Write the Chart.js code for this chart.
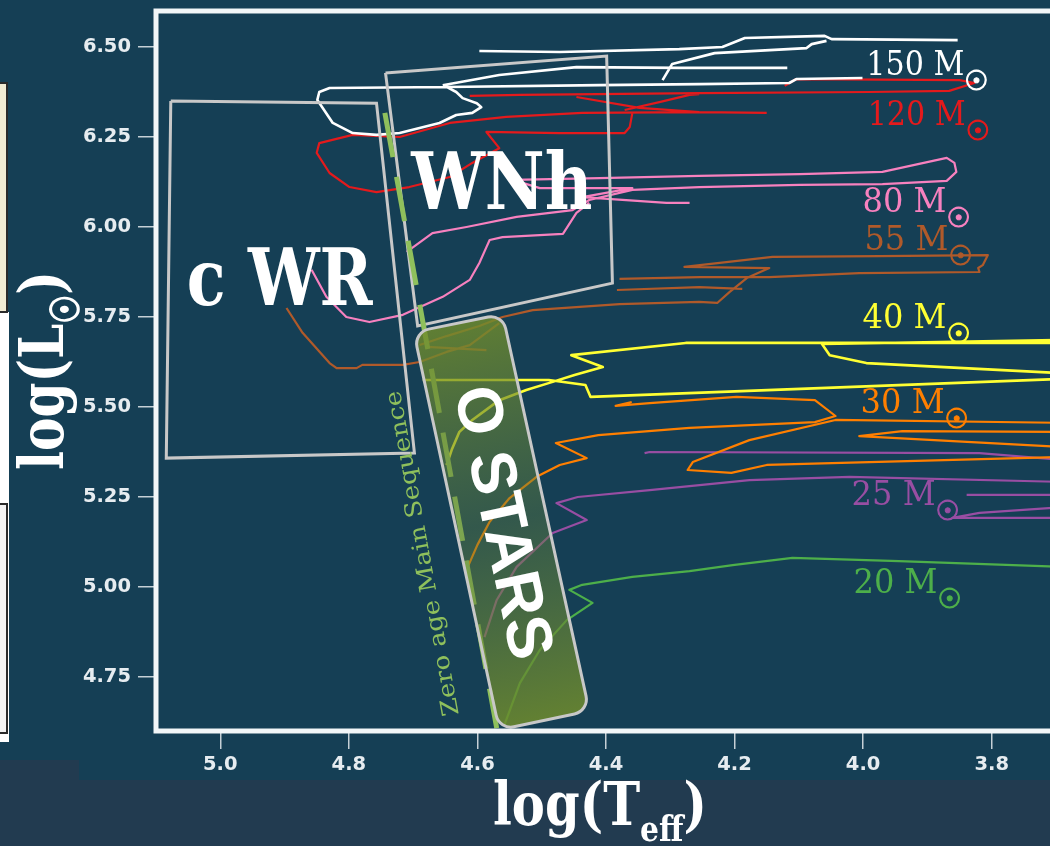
<!DOCTYPE html>
<html>
<head>
<meta charset="utf-8">
<title>HR diagram - massive star tracks</title>
<script src="https://cdn.jsdelivr.net/npm/chart.js@4.4.1/dist/chart.umd.min.js"></script>
<style>
  html, body { margin: 0; padding: 0; width: 1050px; height: 846px; overflow: hidden; background: #153f55; }
  #hrd { position: absolute; left: 0; top: 0; width: 1060px; height: 846px; }
</style>
</head>
<body>
<canvas id="hrd" width="1060" height="846"></canvas>
<script>
// Axis ticks
const xTicks = [5.0, 4.8, 4.6, 4.4, 4.2, 4.0, 3.8];
const yTicks = [4.75, 5.00, 5.25, 5.50, 5.75, 6.00, 6.25, 6.50];

// Evolutionary tracks: log(Teff), log(L/Lsun). null = pen up
const t150 = [4.648, 4.633, 4.623, 4.601, 4.594, 4.608, 4.633, 4.659, 4.721, 4.757, 4.794, 4.825, 4.849, 4.846, 4.830, 4.648, 4.410, 4.255, 4.115, 4.104, 4.001, null,
              4.654, 4.566, 4.446, 4.286, 4.118, null,
              4.597, 4.472, 4.286, 4.219, 4.184, 4.060, 4.049, 3.853, null,
              4.312, 4.297, 4.231, 4.088, 4.080, 4.057];
const l150 = [6.389, 6.375, 6.358, 6.344, 6.333, 6.317, 6.311, 6.289, 6.261, 6.256, 6.261, 6.289, 6.353, 6.375, 6.386, 6.389, 6.394, 6.397, 6.400, 6.411, 6.414, null,
              6.394, 6.422, 6.444, 6.442, 6.442, null,
              6.489, 6.486, 6.494, 6.500, 6.525, 6.531, 6.522, 6.519, null,
              6.408, 6.453, 6.483, 6.497, 6.508, 6.517];

const t120 = [4.122, 4.104, 3.850, 3.827, 3.866, 3.990, 4.255, 4.534, 4.612, null,
              4.446, 4.348, 4.255, 4.150, null,
              4.371, 4.317, 4.270, 4.255, null,
              4.255, 4.437, 4.555, 4.643, 4.721, 4.794, 4.846, 4.850, 4.830, 4.799, 4.757, 4.706, 4.643, 4.608, 4.566, 4.586, 4.472, 4.371, 4.363, 4.359];
const l120 = [6.392, 6.411, 6.408, 6.400, 6.378, 6.375, 6.372, 6.367, 6.364, null,
              6.361, 6.331, 6.319, 6.317, null,
              6.325, 6.347, 6.367, 6.369, null,
              6.319, 6.317, 6.306, 6.289, 6.250, 6.256, 6.233, 6.206, 6.150, 6.111, 6.097, 6.111, 6.139, 6.178, 6.219, 6.264, 6.261, 6.261, 6.278, 6.317];

const t80 = [4.710, 4.670, 4.617, 4.539, 4.452, 4.426, 4.359, 4.255, 4.099, 3.970, 3.870, 3.855, 3.858, 3.870, 3.970, 4.099, 4.255, 4.410, 4.545, 4.503, 4.359, 4.437, 4.306, 4.270, null,
             4.426, 4.446, 4.467, 4.561, 4.581, 4.586, 4.597, 4.612, 4.654, 4.716, 4.768, 4.804, 4.835, 4.858];
const l80 = [5.931, 5.983, 6.000, 6.028, 6.047, 6.075, 6.103, 6.111, 6.117, 6.119, 6.128, 6.153, 6.178, 6.192, 6.153, 6.147, 6.142, 6.136, 6.131, 6.108, 6.108, 6.083, 6.067, 6.067, null,
             6.067, 6.039, 5.981, 5.972, 5.964, 5.944, 5.900, 5.853, 5.806, 5.756, 5.736, 5.750, 5.806, 5.881];

const t55 = [4.690, 4.648, 4.597, 4.561, 4.514, 4.379, 4.255, 4.227, 4.208, 4.181, 4.146, 4.278, 4.141, 3.974, 3.806, 3.814, 3.821, 3.819, 4.006, 4.146, 4.255, 4.379, null,
             4.383, 4.255, 4.188, null,
             4.566, 4.612, 4.648, 4.690, 4.716, 4.779, 4.788, 4.819, 4.830, 4.872, 4.897, null,
             4.679, 4.586];
const l55 = [5.672, 5.697, 5.725, 5.750, 5.769, 5.786, 5.792, 5.789, 5.819, 5.858, 5.886, 5.889, 5.917, 5.919, 5.922, 5.894, 5.886, 5.875, 5.872, 5.861, 5.861, 5.856, null,
             5.825, 5.833, 5.828, null,
             5.733, 5.672, 5.653, 5.625, 5.617, 5.617, 5.608, 5.608, 5.622, 5.706, 5.775, null,
             5.667, 5.658];

const t40 = [4.648, 4.640, 4.628, 4.608, 4.566, 4.524, 4.488, 4.449, 4.405, 4.454, 4.276, 3.690, null,
             3.690, 4.064, 4.052, 3.995, 3.690, null,
             3.690, 4.424, 4.432, 4.489, 4.685];
const l40 = [5.339, 5.381, 5.431, 5.464, 5.519, 5.547, 5.567, 5.589, 5.611, 5.644, 5.678, 5.678, null,
             5.686, 5.675, 5.644, 5.622, 5.594, null,
             5.578, 5.528, 5.561, 5.575, 5.575];

const t30 = [4.615, 4.600, 4.581, 4.550, 4.508, 4.472, 4.430, 4.478, 4.412, 4.270, 4.075, 4.043, 4.075, 4.197, 4.332, 4.385, 4.360, null,
             3.690, 4.043, 4.177, 4.265, 4.273, 4.205, 4.150, 3.690, null,
             3.690, 3.939, 4.006, 3.690];
const l30 = [5.056, 5.117, 5.181, 5.247, 5.306, 5.339, 5.358, 5.400, 5.422, 5.442, 5.458, 5.475, 5.519, 5.528, 5.511, 5.503, 5.514, null,
             5.456, 5.464, 5.408, 5.347, 5.325, 5.317, 5.339, 5.361, null,
             5.431, 5.433, 5.419, 5.389];

const t25 = [4.589, 4.570, 4.539, 4.483, 4.430, 4.477, 4.444, 4.332, 4.177, 4.021, 3.690, null,
             4.340, 4.332, 3.819, 3.690, null,
             3.690, 3.839, null,
             3.690, 3.819, 3.861, 3.690];
const l25 = [4.861, 4.964, 5.056, 5.150, 5.186, 5.233, 5.250, 5.269, 5.297, 5.306, 5.292, null,
             5.372, 5.375, 5.372, 5.353, null,
             5.256, 5.256, null,
             5.222, 5.206, 5.192, 5.192];

const t20 = [4.558, 4.534, 4.503, 4.461, 4.421, 4.457, 4.437, 4.359, 4.270, 4.203, 4.110, 3.944, 3.690];
const l20 = [4.617, 4.733, 4.825, 4.908, 4.956, 4.992, 5.006, 5.028, 5.044, 5.061, 5.081, 5.072, 5.056];

const massNames = ['150', '120', '80', '55', '40', '30', '25', '20'];
const trackColors = ['#ffffff', '#e41a1c', '#f781bf', '#b05a2a', '#ffff33', '#ff7f00', '#984ea3', '#4daf4a'];

// Regions (corners in log Teff, log L)
const cwrT = [5.077, 4.757, 4.698, 5.084, 5.077];
const cwrL = [6.350, 6.344, 5.372, 5.358, 6.350];
const wnhT = [4.743, 4.399, 4.390, 4.693, 4.743];
const wnhL = [6.428, 6.475, 5.844, 5.725, 6.428];
const ostarsT = [4.699, 4.561, 4.426, 4.566];
const ostarsL = [5.708, 5.758, 4.656, 4.603];
const zamsT = [4.744, 4.570];
const zamsL = [6.317, 4.608];

// Mass label anchors (left end of text, baseline)
const labelT = [3.995, 3.993, 4.001, 3.998, 4.001, 4.004, 4.018, 4.015];
const labelL = [6.422, 6.283, 6.042, 5.936, 5.719, 5.483, 5.228, 4.983];

function points(ts, ls) {
    return ts.map((t, i) => (t === null ? { x: null, y: null } : { x: t, y: ls[i] }));
}

const trackT = [t150, t120, t80, t55, t40, t30, t25, t20];
const trackL = [l150, l120, l80, l55, l40, l30, l25, l20];

const datasets = trackT.map((ts, i) => ({
    label: massNames[i] + ' Msun',
    data: points(ts, trackL[i]),
    showLine: true,
    borderColor: trackColors[i],
    borderWidth: i === 0 ? 2.6 : (i === 4 ? 2.6 : 2.2),
    borderJoinStyle: 'round',
    pointRadius: 0,
    spanGaps: false,
    order: 2
}));

datasets.push({
    label: 'cWR', data: points(cwrT, cwrL), showLine: true,
    borderColor: '#c8c8c8', borderWidth: 3, pointRadius: 0, order: 1
});
datasets.push({
    label: 'WNh', data: points(wnhT, wnhL), showLine: true,
    borderColor: '#c8c8c8', borderWidth: 3, pointRadius: 0, order: 1
});
datasets.push({
    label: 'ZAMS', data: points(zamsT, zamsL), showLine: true,
    borderColor: '#8fc05c', borderWidth: 5, borderDash: [45, 20], pointRadius: 0, order: 0
});

function mid(a, b) { return { x: (a.x + b.x) / 2, y: (a.y + b.y) / 2 }; }

function roundedPoly(c, pts, r) {
    const n = pts.length;
    const m0 = mid(pts[n - 1], pts[0]);
    c.beginPath();
    c.moveTo(m0.x, m0.y);
    for (let i = 0; i < n; i++) {
        const p = pts[i], q = pts[(i + 1) % n];
        c.arcTo(p.x, p.y, q.x, q.y, r);
    }
    c.closePath();
}

// text squeezed horizontally to a given width
function fitText(c, text, font, x, y, width, angle, color, centered) {
    c.save();
    c.font = font;
    const m = c.measureText(text).width;
    c.translate(x, y);
    c.rotate(angle || 0);
    c.scale(width / m, 1);
    c.fillStyle = color;
    c.textAlign = centered ? 'center' : 'left';
    c.textBaseline = centered ? 'middle' : 'alphabetic';
    c.fillText(text, 0, 0);
    c.restore();
}

// several pieces (with subscripts) on one baseline
function richText(c, parts, x, y, width, angle, color) {
    let total = 0;
    parts.forEach(p => { c.font = p.font; p.w = c.measureText(p.text).width; total += p.w; });
    c.save();
    c.translate(x, y);
    c.rotate(angle || 0);
    c.scale(width / total, 1);
    c.fillStyle = color;
    c.strokeStyle = color;
    c.textAlign = 'left';
    c.textBaseline = 'alphabetic';
    let cx = 0;
    parts.forEach(p => {
        c.font = p.font;
        c.fillText(p.text, cx, p.dy || 0);
        if (p.bold) { c.lineWidth = p.bold; c.strokeText(p.text, cx, p.dy || 0); }
        cx += p.w;
    });
    c.restore();
}

function sun(c, cx, cy, font, color) {
    c.save();
    c.font = font;
    c.textAlign = 'left';
    c.textBaseline = 'alphabetic';
    const m = c.measureText('\u2609');
    const x = cx - (m.actualBoundingBoxRight - m.actualBoundingBoxLeft) / 2;
    const y = cy - (m.actualBoundingBoxDescent - m.actualBoundingBoxAscent) / 2;
    c.fillStyle = color;
    c.strokeStyle = color;
    c.lineWidth = 1.1;
    c.fillText('\u2609', x, y);
    c.strokeText('\u2609', x, y);
    c.restore();
}

const hrDecor = {
    id: 'hrDecor',
    beforeDraw(chart) {
        const c = chart.ctx;
        c.save();
        c.fillStyle = '#153f55';
        c.fillRect(0, 0, chart.width, chart.height);
        // slide strip under the picture
        c.fillStyle = '#223b50';
        c.fillRect(0, 760, 79, 86);
        c.fillRect(79, 780, chart.width, 66);
        // bits of neighbouring slide panels on the left edge
        c.fillStyle = '#ffffff';
        c.fillRect(0, 312, 9, 430);
        c.fillStyle = '#f1ebd3';
        c.fillRect(0, 83, 7, 229);
        c.strokeStyle = '#2a2a2a';
        c.lineWidth = 2;
        c.strokeRect(-3, 83, 10, 229);
        c.fillStyle = '#f3f3f3';
        c.fillRect(0, 504, 7, 229);
        c.strokeRect(-3, 504, 10, 229);
        c.restore();
    },
    afterDatasetsDraw(chart) {
        const c = chart.ctx, a = chart.chartArea;
        const X = v => chart.scales.x.getPixelForValue(v);
        const Y = v => chart.scales.y.getPixelForValue(v);
        c.save();

        // O stars band
        const pts = ostarsT.map((t, i) => ({ x: X(t), y: Y(ostarsL[i]) }));
        const top = mid(pts[0], pts[1]), bot = mid(pts[2], pts[3]);
        const g = c.createLinearGradient(top.x, top.y, bot.x, bot.y);
        g.addColorStop(0, 'rgba(112,140,44,0.82)');
        g.addColorStop(0.5, 'rgba(96,126,62,0.40)');
        g.addColorStop(1, 'rgba(112,140,44,0.85)');
        roundedPoly(c, pts, 15);
        c.fillStyle = g;
        c.fill();
        c.strokeStyle = '#c8c8c8';
        c.lineWidth = 3;
        c.stroke();

        // plot frame
        c.strokeStyle = '#f2f6f8';
        c.lineWidth = 5;
        c.strokeRect(a.left, a.top, a.right - a.left + 20, a.bottom - a.top);

        // region names
        fitText(c, 'c WR', 'bold 78px "DejaVu Serif"', X(5.052), Y(5.783), X(4.763) - X(5.052), 0, '#ffffff');
        fitText(c, 'WNh', 'bold 78px "DejaVu Serif"', X(4.703), Y(6.050), X(4.421) - X(4.703), 0, '#ffffff');
        const ang = Math.atan2(pts[3].y - pts[0].y, pts[3].x - pts[0].x);
        fitText(c, 'O STARS', 'bold 64px "Liberation Sans"', X(4.564), Y(5.178), 278, ang, '#ffffff', true);
        const zAng = Math.atan2(Y(zamsL[0]) - Y(zamsL[1]), X(zamsT[0]) - X(zamsT[1]));
        fitText(c, 'Zero age Main Sequence', '23px "DejaVu Serif"', X(4.684), Y(5.094), 330, zAng, '#8fc05c', true);

        // mass labels
        massNames.forEach((name, i) => {
            const x0 = X(labelT[i]), y0 = Y(labelL[i]);
            const w = (name.length === 3 ? 98 : 84);
            fitText(c, name + ' M', '33px "DejaVu Serif"', x0, y0, w, 0, trackColors[i]);
            sun(c, x0 + w + 12, y0 + 5, 'bold 27px "DejaVu Sans"', trackColors[i]);
        });

        // axis titles
        richText(c, [
            { text: 'log(T', font: 'bold 60px "DejaVu Serif"' },
            { text: 'eff', font: 'bold 36px "DejaVu Serif"', dy: 16 },
            { text: ')', font: 'bold 60px "DejaVu Serif"' }
        ], 493, 825, 214, 0, '#ffffff');
        richText(c, [
            { text: 'log(L', font: 'bold 62px "DejaVu Serif"' },
            { text: '\u2609', font: 'bold 40px "DejaVu Sans"', dy: 16, bold: 1.6 },
            { text: ')', font: 'bold 62px "DejaVu Serif"' }
        ], 63, 470, 199, -Math.PI / 2, '#ffffff');

        c.restore();
    }
};

const tickFont = { family: 'DejaVu Sans', size: 19.5, weight: 'bold' };

new Chart(document.getElementById('hrd'), {
    type: 'scatter',
    data: { datasets: datasets },
    options: {
        responsive: false,
        animation: false,
        events: [],
        layout: { padding: { left: 0, right: 4, top: 11, bottom: 0 } },
        plugins: { legend: { display: false }, tooltip: { enabled: false } },
        scales: {
            x: {
                type: 'linear',
                reverse: true,
                min: 3.7,
                max: 5.1,
                afterBuildTicks: s => { s.ticks = xTicks.map(v => ({ value: v })); },
                afterFit: s => { s.height = 115; s.paddingLeft = 0; s.paddingRight = 0; },
                border: { display: false },
                grid: { drawOnChartArea: false, drawTicks: true, tickLength: 18, color: '#c5d0d6', lineWidth: 1.5 },
                ticks: { color: '#e6ecf0', font: tickFont, padding: 4, maxRotation: 0, autoSkip: false, callback: v => v.toFixed(1) }
            },
            y: {
                type: 'linear',
                min: 4.6,
                max: 6.6,
                afterBuildTicks: s => { s.ticks = yTicks.map(v => ({ value: v })); },
                afterFit: s => { s.width = 156; s.paddingTop = 0; s.paddingBottom = 0; },
                border: { display: false },
                grid: { drawOnChartArea: false, drawTicks: true, tickLength: 18, color: '#c5d0d6', lineWidth: 1.5 },
                ticks: { color: '#e6ecf0', font: tickFont, padding: 7, autoSkip: false, callback: v => v.toFixed(2) }
            }
        }
    },
    plugins: [hrDecor]
});
</script>
</body>
</html>
